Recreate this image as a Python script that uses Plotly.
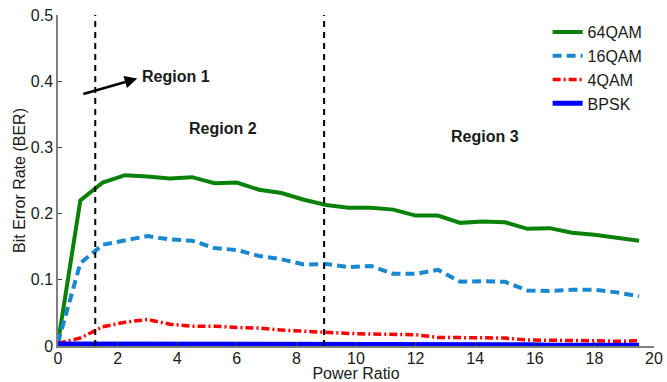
import plotly.graph_objects as go

power_ratio = [0, 0.75, 1.5, 2.25, 3, 3.75, 4.5, 5.25, 6, 6.75, 7.5, 8.25, 9, 9.75,
               10.5, 11.25, 12, 12.75, 13.5, 14.25, 15, 15.75, 16.5, 17.25, 18, 18.75, 19.5]

ber_64qam = [0.005, 0.220, 0.247, 0.258, 0.256, 0.253, 0.255, 0.246, 0.247, 0.236, 0.231, 0.221, 0.213, 0.209,
             0.209, 0.206, 0.197, 0.197, 0.186, 0.188, 0.187, 0.177, 0.178, 0.171, 0.168, 0.163, 0.159]
ber_16qam = [0.005, 0.125, 0.153, 0.160, 0.166, 0.161, 0.159, 0.148, 0.145, 0.136, 0.131, 0.123, 0.124, 0.119,
             0.121, 0.109, 0.109, 0.115, 0.097, 0.098, 0.097, 0.084, 0.083, 0.085, 0.085, 0.081, 0.075]
ber_4qam = [0.004, 0.012, 0.029, 0.036, 0.040, 0.033, 0.030, 0.030, 0.028, 0.027, 0.024, 0.022, 0.021, 0.019,
            0.018, 0.017, 0.017, 0.013, 0.013, 0.012, 0.012, 0.009, 0.009, 0.009, 0.008, 0.007, 0.008]
ber_bpsk = [0.003, 0.003, 0.003, 0.002, 0.002, 0.002, 0.002, 0.002, 0.003, 0.002, 0.002, 0.002, 0.002, 0.002,
            0.002, 0.002, 0.002, 0.002, 0.002, 0.002, 0.002, 0.002, 0.001, 0.001, 0.001, 0.001, 0.001]

region_bounds = [1.25, 8.93]
x_ticks = list(range(0, 21, 2))
y_ticks = [0, 0.1, 0.2, 0.3, 0.4, 0.5]

FONT = "Liberation Sans, Arial, sans-serif"
TXT = "#1a1a1a"

fig = go.Figure()
fig.add_trace(go.Scatter(x=power_ratio, y=ber_64qam, mode="lines", name="64QAM",
                         line=dict(color="#0a820a", width=4)))
fig.add_trace(go.Scatter(x=power_ratio, y=ber_16qam, mode="lines", name="16QAM",
                         line=dict(color="#1a88cf", width=4, dash="9px,5px")))
fig.add_trace(go.Scatter(x=power_ratio, y=ber_4qam, mode="lines", name="4QAM",
                         line=dict(color="#ff0000", width=3.5, dash="8px,3px,2px,3px")))
fig.add_trace(go.Scatter(x=power_ratio, y=ber_bpsk, mode="lines", name="BPSK",
                         line=dict(color="#0000ff", width=5)))

for xb in region_bounds:
    fig.add_shape(type="line", xref="x", yref="y", x0=xb, x1=xb, y0=0, y1=0.5,
                  line=dict(color="black", width=2, dash="6px,5px"))

fig.add_annotation(x=2.66, y=0.404, ax=0.8, ay=0.380, xref="x", yref="y", axref="x", ayref="y",
                   showarrow=True, arrowhead=2, arrowsize=1, arrowwidth=2.5, arrowcolor="black", text="")
fig.add_annotation(x=2.74, y=0.407, xref="x", yref="y", text="<b>Region 1</b>", showarrow=False,
                   xanchor="left", font=dict(size=16, color=TXT, family=FONT))
fig.add_annotation(x=5.53, y=0.329, xref="x", yref="y", text="<b>Region 2</b>", showarrow=False,
                   font=dict(size=16, color=TXT, family=FONT))
fig.add_annotation(x=14.32, y=0.317, xref="x", yref="y", text="<b>Region 3</b>", showarrow=False,
                   font=dict(size=16, color=TXT, family=FONT))

axis_common = dict(showgrid=False, zeroline=False, showline=True, linecolor="#808080", linewidth=1.5,
                   ticks="inside", ticklen=4, tickcolor="#404040", mirror=False, automargin=False,
                   tickfont=dict(size=16, color=TXT, family=FONT))

fig.update_xaxes(range=[0, 20], tickvals=x_ticks, ticklabelstandoff=-3,
                 title=dict(text="Power Ratio", standoff=0, font=dict(size=16, color=TXT, family=FONT)),
                 **axis_common)
fig.update_yaxes(range=[0, 0.5], tickvals=y_ticks,
                 title=dict(text="Bit Error Rate (BER)", standoff=1, font=dict(size=16, color=TXT, family=FONT)),
                 **axis_common)

fig.update_layout(
    width=667, height=382,
    margin=dict(l=58, r=13, t=15, b=36),
    plot_bgcolor="white", paper_bgcolor="white",
    font=dict(family=FONT, size=16, color=TXT),
    legend=dict(x=0.8215, y=1.0, xanchor="left", yanchor="top",
                bgcolor="rgba(0,0,0,0)", font=dict(size=16, color=TXT, family=FONT), tracegroupgap=0),
)

fig.write_html("out.html", config={"displayModeBar": False},
               post_script="document.body.style.margin='0';")
